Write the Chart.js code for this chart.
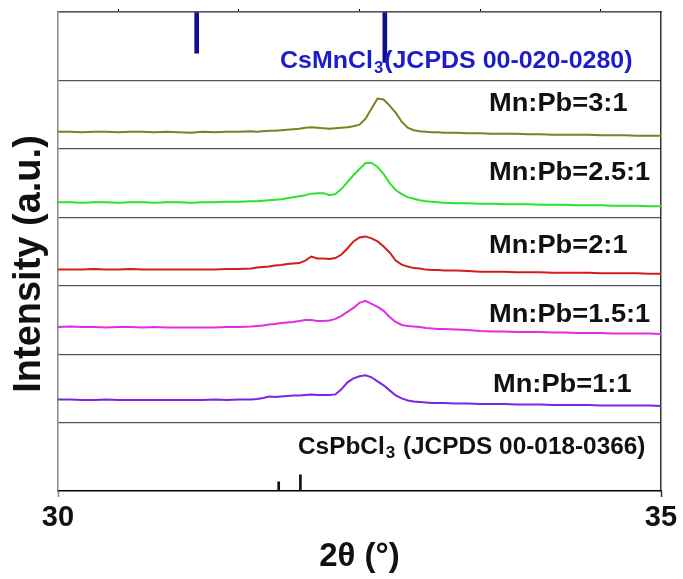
<!DOCTYPE html>
<html lang="en">
<head>
  <meta charset="UTF-8">
  <title>XRD - Mn:Pb ratios</title>
  <script src="https://cdn.jsdelivr.net/npm/chart.js"></script>
  <style>
    body { margin: 0; background: #fff; }
    #wrap { width: 683px; height: 579px; }
  </style>
</head>
<body>
  <div id="wrap"><canvas id="xrd" width="683" height="579"></canvas></div>

  <script>
    // 2theta positions (deg), finer step around the peak
    const twoTheta = [30.0, 30.1, 30.2, 30.3, 30.4, 30.5, 30.6, 30.7, 30.8, 30.9, 31.0, 31.1, 31.2, 31.3, 31.4, 31.5, 31.6,
      31.65, 31.7, 31.75, 31.8, 31.85, 31.9, 31.95, 32.0, 32.05, 32.1, 32.15, 32.2, 32.25, 32.3, 32.35, 32.4,
      32.45, 32.5, 32.55, 32.6, 32.65, 32.7, 32.75, 32.8, 32.85, 32.9, 32.95, 33.0, 33.05, 33.1, 33.15, 33.2,
      33.3, 33.4, 33.5, 33.6, 33.7, 33.8, 33.9, 34.0, 34.1, 34.2, 34.3, 34.4, 34.5, 34.6, 34.7, 34.8, 34.9, 35.0];

    // intensities (a.u.)
    const mnPb31 = [17, 17, 16.5, 17, 17, 16.5, 17, 17, 16.5, 17, 16.5, 16, 17, 16.5, 17, 17, 17.5,
      17, 17.5, 18, 18, 18.5, 19, 19.5, 20, 21, 21.5, 21, 20.5, 20, 20.5, 21, 21.5,
      22.5, 24, 30, 40, 50, 49, 43, 36, 27, 21, 18.5, 17.5, 17, 16.5, 16.5, 16,
      16, 15.5, 15.5, 15, 15, 15, 14.5, 14.5, 14, 14, 14, 14, 13.5, 13.5, 13.5, 13, 13, 13];
    const mnPb251 = [15, 15, 14.5, 15, 15, 14.5, 15, 15, 14.5, 15, 15, 14.5, 15, 15, 15.5, 15.5, 16,
      16, 16.5, 17, 17.5, 18, 19, 20, 21, 22, 23.5, 24, 24, 22, 23, 28, 35,
      42, 48, 54, 54, 50, 43, 34, 27, 23, 20, 18.5, 17, 16, 15.5, 15, 14.5,
      14, 14, 13.5, 13.5, 13, 13, 13, 12.5, 12.5, 12.5, 12, 12, 12, 11.5, 11.5, 11.5, 11, 11];
    const mnPb21 = [16, 16, 16, 16.5, 16, 16, 16.5, 16, 16, 16, 16, 16, 16, 16, 16.5, 16.5, 17,
      18, 18.5, 19, 20, 20.5, 21.5, 22, 22.5, 25, 29, 27, 27, 26.5, 27.5, 31, 37,
      44, 48, 49, 47, 44, 39, 33, 25, 21, 19, 17.5, 17, 16, 15.5, 15.5, 15,
      15, 14.5, 14, 14, 14, 13.5, 13.5, 13.5, 13, 13, 13, 13, 12.5, 12.5, 12.5, 12.5, 12, 12];
    const mnPb151 = [27, 27.5, 27, 27, 26.5, 27, 27, 26.5, 27, 26.5, 26.5, 26.5, 26.5, 26.5, 27, 27, 27.5,
      28, 28.5, 29.5, 30, 31, 31.5, 32, 33, 34, 34, 33, 33, 33.5, 35, 38, 42,
      46, 51, 53, 50, 47, 43, 37, 32, 29, 28, 27.5, 27, 26, 25.5, 25, 25,
      24.5, 24, 23, 22.5, 22.5, 22, 22, 22, 21.5, 21.5, 21, 21, 21, 20.5, 20.5, 20.5, 20.5, 20];
    const mnPb11 = [23, 23, 22.5, 22.5, 23, 22.5, 22.5, 22.5, 22.5, 22.5, 22.5, 22.5, 22.5, 23, 22.5, 23, 23,
      23.5, 24.5, 26, 25.5, 26, 26.5, 27, 27, 27.5, 28, 27.5, 27.5, 27.5, 28, 33, 40,
      44, 46, 47, 45, 41, 37, 32, 27, 24, 22, 21, 20.5, 20, 19.5, 19.5, 19.5,
      19, 19, 18.5, 18.5, 18.5, 18, 18, 18, 17.5, 17.5, 17.5, 17.5, 17, 17, 17, 17, 17, 16.5];

    // reference patterns (stick positions and relative heights)
    const mnRefPos = [31.15, 32.71];
    const mnRefInt = [41, 50];
    const pbRefPos = [31.83, 32.01];
    const pbRefInt = [9, 16];

    const xTickLabels = [30, 35];
    const minorTicks = [30.5, 31.5, 32.5, 33.5, 34.5];
    const panelMax = 68;

    const FONT = '"Liberation Sans", Arial, sans-serif';

    const toPoints = (xs, ys) => xs.map((x, i) => ({ x: x, y: ys[i] }));

    function panelScale(reverse, lineAt) {
      return {
        type: 'linear',
        position: 'left',
        stack: 'panels',
        stackWeight: 1,
        min: 0,
        max: panelMax,
        reverse: reverse,
        afterBuildTicks: s => { s.ticks = [{ value: lineAt }]; },
        ticks: { display: false },
        grid: { display: true, drawTicks: false, color: '#555', lineWidth: 1.2 },
        border: { display: true, color: '#888', width: 1.5 },
        afterFit: s => { s.width = 0; }
      };
    }

    // text inside panels: [axis, main, sub, rest, x offset, y offset, colour, size, stretch]
    const panelLabels = [
      ['y31', 'Mn:Pb=3:1', '', '', 431, 24, '#111', 25, 1.09],
      ['y251', 'Mn:Pb=2.5:1', '', '', 431, 24.5, '#111', 25, 1.09],
      ['y21', 'Mn:Pb=2:1', '', '', 431, 28.5, '#111', 25, 1.09],
      ['y151', 'Mn:Pb=1.5:1', '', '', 431, 29.5, '#111', 25, 1.09],
      ['y11', 'Mn:Pb=1:1', '', '', 435, 31, '#111', 25, 1.09],
      ['yCsMn', 'CsMnCl', '3', '(JCPDS 00-020-0280)', 222, 49.5, '#1c1cc8', 24, 1.04],
      ['yCsPb', 'CsPbCl', '3', ' (JCPDS 00-018-0366)', 240, 25, '#111', 23, 1.06]
    ];

    function drawStretched(ctx, text, x, y, sx) {
      ctx.save();
      ctx.translate(x, y);
      ctx.scale(sx, 1);
      ctx.fillText(text, 0, 0);
      ctx.restore();
      return ctx.measureText(text).width * sx;
    }

    const panelText = {
      id: 'panelText',
      afterDraw(chart) {
        const ctx = chart.ctx;
        const area = chart.chartArea;
        ctx.save();
        ctx.textBaseline = 'middle';
        ctx.textAlign = 'left';
        panelLabels.forEach(([axis, main, sub, rest, dx, dy, color, size, sx]) => {
          const scale = chart.scales[axis];
          let x = area.left + dx;
          const y = scale.top + dy;
          ctx.fillStyle = color;
          ctx.font = 'bold ' + size + 'px ' + FONT;
          x += drawStretched(ctx, main, x, y, sx);
          if (sub) {
            ctx.font = 'bold ' + Math.round(size * 0.68) + 'px ' + FONT;
            x += drawStretched(ctx, sub, x + 1, y + size * 0.28, sx) + 2;
            ctx.font = 'bold ' + size + 'px ' + FONT;
            drawStretched(ctx, rest, x, y, sx);
          }
        });
        // y axis title spanning all panels
        ctx.translate(30, 264);
        ctx.rotate(-Math.PI / 2);
        ctx.textAlign = 'center';
        ctx.fillStyle = '#111';
        ctx.font = 'bold 38px ' + FONT;
        ctx.fillText('Intensity (a.u.)', 0, 0);
        ctx.restore();
      }
    };

    const lineSet = (label, data, color, axis) => ({
      type: 'line',
      label: label,
      data: toPoints(twoTheta, data),
      yAxisID: axis,
      borderColor: color,
      borderWidth: 2,
      pointRadius: 0,
      tension: 0,
      fill: false
    });

    new Chart(document.getElementById('xrd'), {
      type: 'line',
      data: {
        datasets: [
          lineSet('Mn:Pb=3:1', mnPb31, '#7f7f1f', 'y31'),
          lineSet('Mn:Pb=2.5:1', mnPb251, '#2ee22e', 'y251'),
          lineSet('Mn:Pb=2:1', mnPb21, '#d41c1c', 'y21'),
          lineSet('Mn:Pb=1.5:1', mnPb151, '#e22ee2', 'y151'),
          lineSet('Mn:Pb=1:1', mnPb11, '#7a24e6', 'y11'),
          {
            type: 'bar',
            label: 'CsMnCl3',
            data: toPoints(mnRefPos, mnRefInt),
            yAxisID: 'yCsMn',
            backgroundColor: '#10108a',
            barThickness: 4,
            grouped: false
          },
          {
            type: 'bar',
            label: 'CsPbCl3',
            data: toPoints(pbRefPos, pbRefInt),
            yAxisID: 'yCsPb',
            backgroundColor: '#111',
            barThickness: 2,
            grouped: false
          }
        ]
      },
      options: {
        responsive: false,
        animation: false,
        devicePixelRatio: 1,
        layout: { padding: { left: 58, right: 22, top: 9, bottom: 0 } },
        plugins: { legend: { display: false }, tooltip: { enabled: false } },
        scales: {
          x: {
            type: 'linear',
            position: 'bottom',
            min: 30,
            max: 35,
            offset: false,
            afterBuildTicks: s => { s.ticks = [30, ...minorTicks, 35].map(v => ({ value: v })); },
            ticks: {
              autoSkip: false,
              maxRotation: 0,
              padding: 4,
              color: '#111',
              font: { family: FONT, size: 29, weight: 'bold' },
              callback: v => xTickLabels.includes(v) ? String(v) : ''
            },
            grid: {
              offset: false,
              drawOnChartArea: false,
              drawTicks: true,
              tickLength: 6,
              tickWidth: 1.5,
              tickColor: c => (c.tick && c.tick.value === 30) ? '#888' : (c.tick && c.tick.value === 35) ? '#333' : 'rgba(0,0,0,0)'
            },
            border: { color: '#000', width: 1.5 },
            title: {
              display: true,
              text: '2θ (°)',
              color: '#111',
              font: { family: FONT, size: 33, weight: 'bold' },
              padding: { top: 0, bottom: 2 }
            },
            afterFit: s => { s.height = 88; }
          },
          xTop: {
            type: 'linear',
            position: 'top',
            min: 30,
            max: 35,
            afterBuildTicks: s => { s.ticks = minorTicks.map(v => ({ value: v })); },
            ticks: { display: false },
            grid: { offset: false, drawOnChartArea: false, drawTicks: true, tickLength: 3, tickColor: '#000' },
            border: { color: '#555', width: 1.5 },
            afterFit: s => { s.height = 3; }
          },
          // defined bottom to top: last left stacked axis is placed on top
          yCsPb: panelScale(false, panelMax),
          y11: panelScale(false, panelMax),
          y151: panelScale(false, panelMax),
          y21: panelScale(false, panelMax),
          y251: panelScale(false, panelMax),
          y31: panelScale(false, panelMax),
          yCsMn: panelScale(true, 0),
          yR: {
            type: 'linear',
            position: 'right',
            min: 0,
            max: 1,
            ticks: { display: false },
            grid: { display: false, drawTicks: false },
            border: { display: true, color: '#333', width: 1.5 },
            afterFit: s => { s.width = 0; }
          }
        }
      },
      plugins: [panelText]
    });
  </script>
</body>
</html>
